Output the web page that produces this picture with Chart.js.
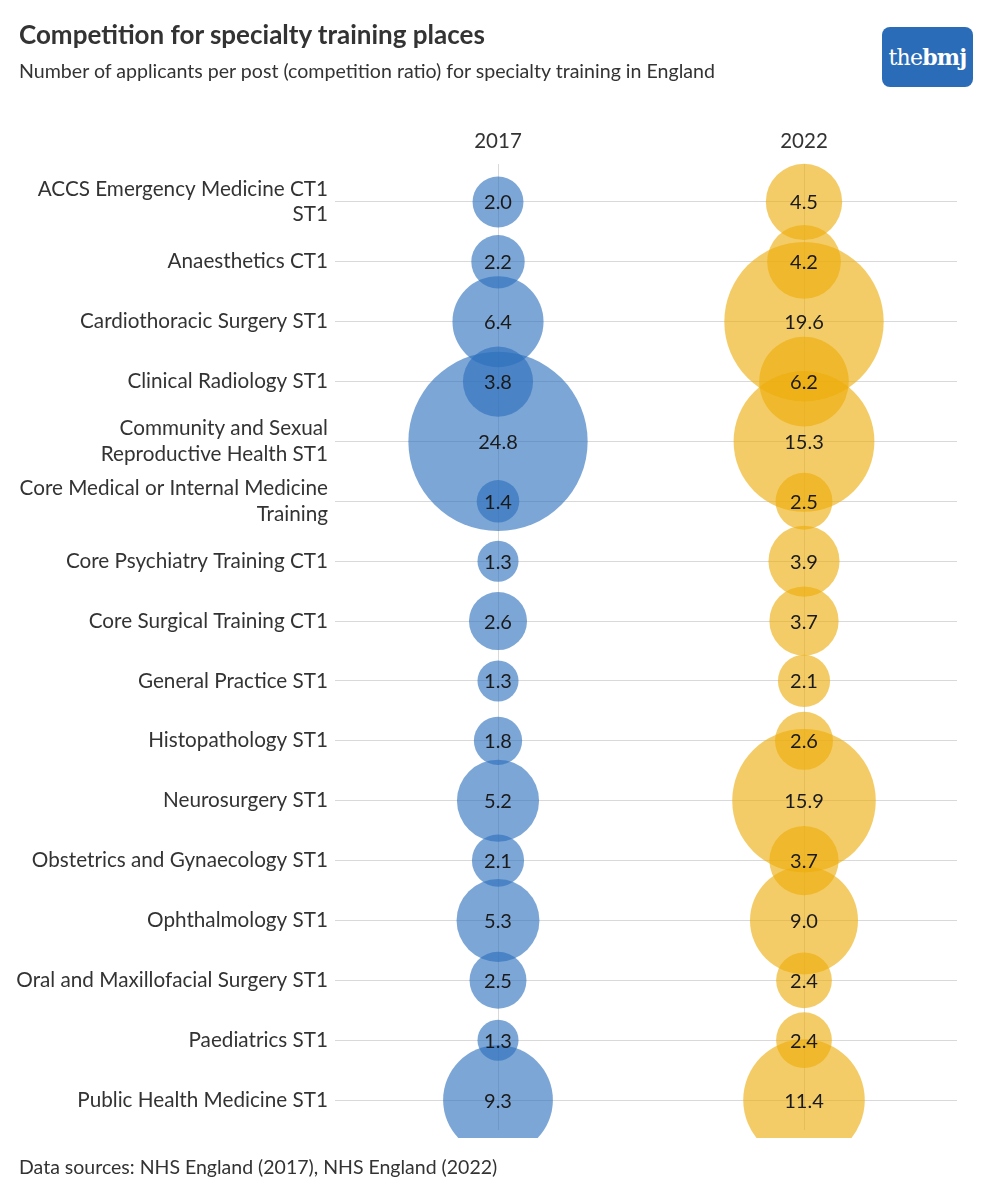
<!DOCTYPE html>
<html>
<head>
<meta charset="utf-8">
<script src="https://cdn.jsdelivr.net/npm/chart.js@4"></script>
<style>
  body { margin: 0; background: #fff; font-family: Lato, sans-serif; color: #333; }
  .wrap { position: relative; width: 1000px; height: 1200px; }
  #chart { position: absolute; left: 0; top: 0; }
  .title { position: absolute; left: 19px; top: 18px; font-size: 26px; font-weight: 700; color: #333; }
  .subtitle { position: absolute; left: 19px; top: 59px; font-size: 19.6px; color: #333; }
  .source { position: absolute; left: 19px; top: 1155px; font-size: 19.5px; color: #333; }
  .logo {
    position: absolute; left: 882px; top: 27px; width: 91px; height: 60px;
    background: #2b6cb8; border-radius: 8px; color: #fff;
    font-family: "DejaVu Serif", serif; font-size: 22px; letter-spacing: -0.8px;
    display: flex; align-items: center; justify-content: center;
  }
  .logo b { font-weight: 700; }
</style>
</head>
<body>
<div class="wrap">
  <canvas id="chart" width="1000" height="1200"></canvas>
  <div class="title">Competition for specialty training places</div>
  <div class="subtitle">Number of applicants per post (competition ratio) for specialty training in England</div>
  <div class="logo"><span style="font-weight:300">the</span><b>bmj</b></div>
  <div class="source">Data sources: NHS England (2017), NHS England (2022)</div>
</div>
<script>
const years = ['2017', '2022'];
const specialties = [
  ['ACCS Emergency Medicine CT1', 'ST1'],
  'Anaesthetics CT1',
  'Cardiothoracic Surgery ST1',
  'Clinical Radiology ST1',
  ['Community and Sexual', 'Reproductive Health ST1'],
  ['Core Medical or Internal Medicine', 'Training'],
  'Core Psychiatry Training CT1',
  'Core Surgical Training CT1',
  'General Practice ST1',
  'Histopathology ST1',
  'Neurosurgery ST1',
  'Obstetrics and Gynaecology ST1',
  'Ophthalmology ST1',
  'Oral and Maxillofacial Surgery ST1',
  'Paediatrics ST1',
  'Public Health Medicine ST1'
];
const ratio2017 = [2.0, 2.2, 6.4, 3.8, 24.8, 1.4, 1.3, 2.6, 1.3, 1.8, 5.2, 2.1, 5.3, 2.5, 1.3, 9.3];
const ratio2022 = [4.5, 4.2, 19.6, 6.2, 15.3, 2.5, 3.9, 3.7, 2.1, 2.6, 15.9, 3.7, 9.0, 2.4, 2.4, 11.4];

// bubble area proportional to the ratio
const radiusFor = v => 18 * Math.sqrt(v);
const toPoints = (vals, col) => vals.map((v, i) => ({ x: col, y: i, r: radiusFor(v), v }));

const gridColor = 'rgba(0,0,0,0.15)';

// print the ratio in the middle of each bubble
const valueLabels = {
  id: 'valueLabels',
  afterDatasetsDraw(chart) {
    const c = chart.ctx;
    c.save();
    c.font = '20px Lato, sans-serif';
    c.fillStyle = '#1a1a1a';
    c.textAlign = 'center';
    c.textBaseline = 'middle';
    chart.data.datasets.forEach((ds, di) => {
      chart.getDatasetMeta(di).data.forEach((el, i) => {
        c.fillText(ds.data[i].v.toFixed(1), el.x, el.y + 1);
      });
    });
    c.restore();
  }
};

new Chart(document.getElementById('chart'), {
  type: 'bubble',
  data: {
    datasets: [
      { label: years[0], data: toPoints(ratio2017, 0), backgroundColor: 'rgba(44,112,189,0.62)', borderWidth: 0,
        clip: { left: 200, right: 200, top: 200, bottom: 8 } },
      { label: years[1], data: toPoints(ratio2022, 1), backgroundColor: 'rgba(237,172,10,0.62)', borderWidth: 0,
        clip: { left: 200, right: 200, top: 200, bottom: 8 } }
    ]
  },
  options: {
    responsive: false,
    animation: false,
    events: [],
    layout: { autoPadding: false, padding: { top: 122, right: 43, bottom: 70, left: 0 } },
    plugins: { legend: { display: false }, tooltip: { enabled: false } },
    scales: {
      x: {
        type: 'linear',
        position: 'top',
        min: -0.5,
        max: 1.5,
        afterBuildTicks: s => { s.ticks = years.map((_, i) => ({ value: i })); },
        afterFit: s => { s.height = 50; },
        border: { display: false },
        grid: { color: gridColor, tickLength: 8 },
        ticks: {
          padding: 10,
          color: '#333',
          font: { family: 'Lato', size: 20.5 },
          callback: v => years[v]
        }
      },
      y: {
        type: 'linear',
        reverse: true,
        min: -0.5,
        max: 15.5,
        afterBuildTicks: s => { s.ticks = specialties.map((_, i) => ({ value: i })); },
        afterFit: s => { s.width = 345; },
        border: { display: false },
        grid: { color: gridColor, tickLength: 10 },
        ticks: {
          padding: 7,
          color: '#333',
          font: { family: 'Lato', size: 20.7, lineHeight: 1.22 },
          callback: v => specialties[v]
        }
      }
    }
  },
  plugins: [valueLabels]
});
</script>
</body>
</html>
